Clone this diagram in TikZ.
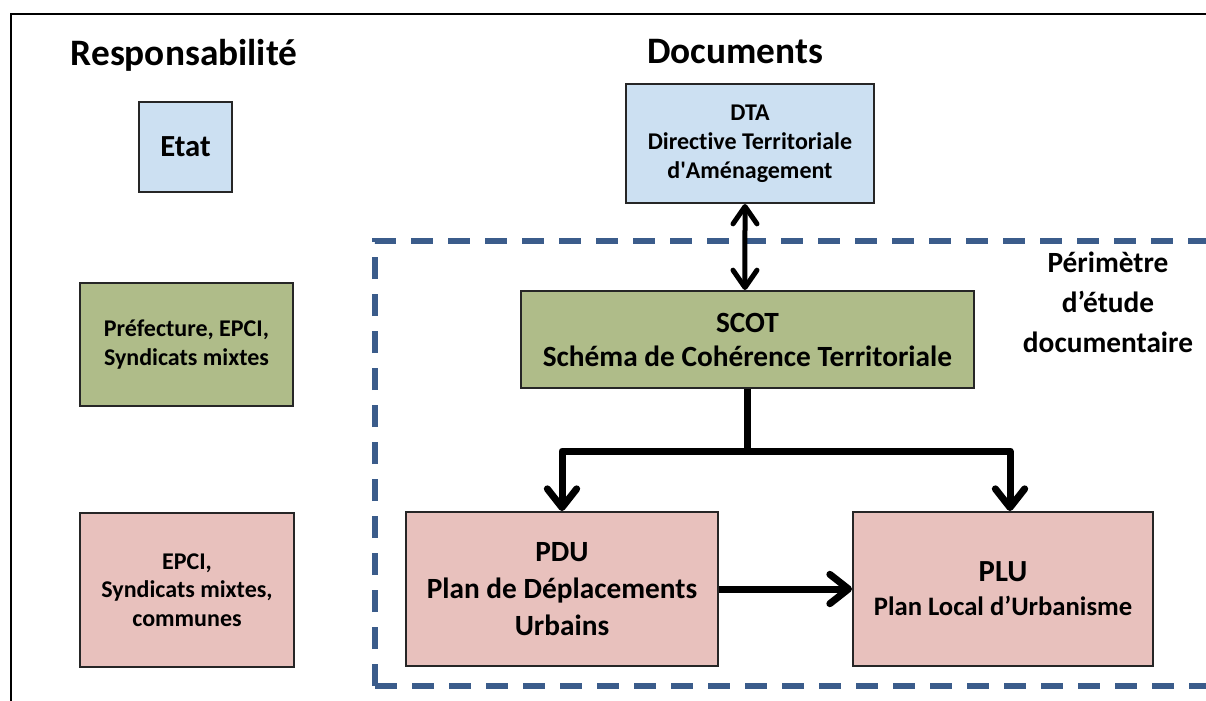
\documentclass[tikz,border=0pt]{standalone}
\usepackage{fontspec}
\setmainfont{Carlito}[Ligatures={TeX,NoCommon}]
\usetikzlibrary{arrows.meta, positioning}
\definecolor{etatblue}{RGB}{204,224,242}
\definecolor{scotgreen}{RGB}{175,188,137}
\definecolor{localpink}{RGB}{232,193,189}
\definecolor{perimblue}{RGB}{59,92,139}

\begin{document}
\begin{tikzpicture}[x=0.75pt, y=-0.75pt,
    % Node styles
    box/.style={draw=black!85, line width=1.5pt, align=center, inner sep=0pt},
    state/.style={box, fill=etatblue},
    inter/.style={box, fill=scotgreen},
    local/.style={box, fill=localpink},
    header/.style={font=\fontsize{28}{32}\selectfont\bfseries},
    % Arrow styles
    link/.style={line width=3.75pt, {Straight Barb[length=13pt, width=18pt, round]}-{Straight Barb[length=13pt, width=18pt, round]}},
    tree/.style={line width=5.25pt, line join=round},
    down/.style={tree, -{Straight Barb[length=14pt, width=22pt, round]}},
    perimeter/.style={perimblue, line width=4pt, dash pattern=on 16.5pt off 11.25pt},
]
    \useasboundingbox (0,0) rectangle (1206,700);

    % Outer frame
    \draw[line width=2.2pt] (11,760) -- (11,14) -- (1260,14);

    % Column headers
    \node[header] (resp) at (184,55) {Responsabilité};
    \node[header] (docs) at (735,52) {Documents};

    % Responsibility boxes
    \node[state, minimum width=69.75pt, minimum height=67.5pt,
          font=\fontsize{23}{27}\selectfont\bfseries] (etat) at (185.5,147) {Etat};
    \node[inter, minimum width=159.75pt, minimum height=92.25pt,
          font=\fontsize{18}{21.75}\selectfont\bfseries] (prefecture) at (186.5,344.5)
          {Préfecture, EPCI,\\Syndicats mixtes};
    \node[local, minimum width=160.5pt, minimum height=115.5pt,
          font=\fontsize{18}{21.5}\selectfont\bfseries] (communes) at (187,590)
          {EPCI,\\Syndicats mixtes,\\communes};

    % Perimeter of the study
    \draw[perimeter] (375,686) -- (375,241) -- (1260,241);
    \draw[perimeter] (375,686) -- (1260,686);
    \node[font=\fontsize{22}{30}\selectfont\bfseries, align=center] (perim) at (1108,302)
          {Périmètre\\d’étude\\documentaire};

    % Document boxes
    \node[state, minimum width=186pt, minimum height=89.25pt,
          font=\fontsize{18}{21.75}\selectfont\bfseries] (dta) at (750,143.5)
          {DTA\\Directive Territoriale\\d\textquotesingle Aménagement};
    \node[inter, minimum width=339.75pt, minimum height=72.75pt,
          font=\fontsize{22}{25.5}\selectfont\bfseries] (scot) at (747.5,339.5)
          {SCOT\\Schéma de Cohérence Territoriale};
    \node[local, minimum width=234pt, minimum height=115.5pt,
          font=\fontsize{22}{27.5}\selectfont\bfseries] (pdu) at (562,589)
          {PDU\\Plan de Déplacements\\Urbains};
    \node[local, minimum width=225pt, minimum height=115.5pt,
          font=\fontsize{20}{25.5}\selectfont\bfseries] (plu) at (1003,589)
          {{\fontsize{23}{25.5}\selectfont PLU}\\Plan Local d’Urbanisme};

    % Links
    \draw[link] ([xshift=-3.75pt]dta.south) -- ([xshift=-1.9pt]scot.north);
    \coordinate (split) at ([yshift=-46.5pt]scot.south);
    \draw[tree] (scot.south) -- (split);
    \draw[down] (split) -| (pdu.north);
    \draw[down] (split) -| ([xshift=5.25pt]plu.north);
    \draw[down] (pdu.east) -- (plu.west);
\end{tikzpicture}
\end{document}
